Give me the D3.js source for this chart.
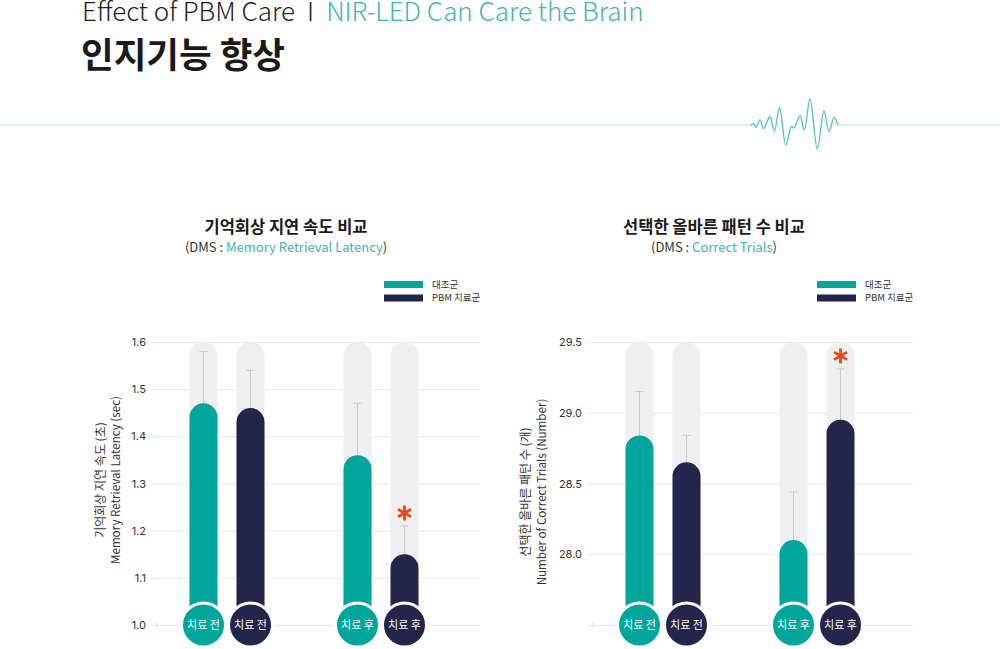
<!DOCTYPE html>
<html>
<head>
<meta charset="utf-8">
<script src="https://cdn.jsdelivr.net/npm/d3@7"></script>
<style>
  body { margin: 0; background: #fff; }
  svg { display: block; font-family: "Noto Sans CJK KR", "Noto Sans", sans-serif; }
</style>
</head>
<body>
<script>
// categories
const groups = ["치료 전", "치료 후"];
const series = ["대조군", "PBM 치료군"];

// chart 1 : memory retrieval latency (sec)
const latencyControl = [1.47, 1.36];
const latencyPBM = [1.46, 1.15];
const latencyControlErr = [1.58, 1.47];
const latencyPBMErr = [1.54, 1.21];
const latencyTicks = [1.0, 1.1, 1.2, 1.3, 1.4, 1.5, 1.6];
const latencyStar = [[false, false], [false, true]];

// chart 2 : correct trials (number)
const trialsControl = [28.84, 28.10];
const trialsPBM = [28.65, 28.95];
const trialsControlErr = [29.15, 28.44];
const trialsPBMErr = [28.84, 29.31];
const trialsTicks = [27.5, 28.0, 28.5, 29.0, 29.5];
const trialsStar = [[false, false], [false, true]];

// header wave peaks (decoration)
const wavePts = [[751,125],[754,124],[756,127],[760,120],[763.5,128.5],[770,116.5],[774.5,131],[779.5,107.5],
  [785.7,145],[791.5,126.5],[794,128],[800,115.5],[804.3,130],[810,99],[817.3,149],[824,111],[829,131.5],[834,117.5],[838,125]];

const colors = ["#00a69c", "#23264a"];
const W = 1000, H = 649;

const svg = d3.select("body").append("svg")
  .attr("width", W).attr("height", H);

// ---- header ----
const head = svg.append("text")
  .attr("x", 82).attr("y", 21)
  .attr("font-size", 26).attr("font-weight", 300).attr("fill", "#222");
head.append("tspan").text("Effect of PBM Care");
head.append("tspan").attr("dx", 12).text("I");
head.append("tspan").attr("dx", 12).attr("fill", "#3db5ae").text("NIR-LED Can Care the Brain");

svg.append("text")
  .attr("x", 81).attr("y", 68)
  .attr("font-size", 35.5).attr("font-weight", 700).attr("fill", "#1a1a1a")
  .text("인지기능 향상");

svg.append("line").attr("x1", 0).attr("x2", 752).attr("y1", 125).attr("y2", 125)
  .attr("stroke", "#b4dfdd").attr("stroke-width", 1);
svg.append("line").attr("x1", 838).attr("x2", W).attr("y1", 125).attr("y2", 125)
  .attr("stroke", "#b4dfdd").attr("stroke-width", 1);
svg.append("path")
  .attr("d", d3.line().curve(d3.curveMonotoneX)(wavePts))
  .attr("fill", "none").attr("stroke", "#5cc3bf").attr("stroke-width", 1.4);

// ---- chart drawing ----
function drawChart(cfg) {
  const top = 342, base = 625;
  const y = d3.scaleLinear().domain(cfg.domain).range([base, top]);
  const xg = d3.scalePoint().domain(groups).range([cfg.left + 75, cfg.left + 229]);
  const xs = d3.scalePoint().domain(series).range([-23.5, 23.5]);
  const bw = 28, r = bw / 2;
  const g = svg.append("g");

  // titles
  g.append("text").attr("x", cfg.titleX).attr("y", 233).attr("text-anchor", "middle")
    .attr("font-size", 16.5).attr("font-weight", 700).attr("fill", "#1a1a1a").text(cfg.title);
  const sub = g.append("text").attr("x", cfg.titleX).attr("y", 252).attr("text-anchor", "middle")
    .attr("font-size", 13).attr("fill", "#333");
  sub.append("tspan").text("(DMS : ");
  sub.append("tspan").attr("fill", "#3db5ae").text(cfg.subtitle);
  sub.append("tspan").text(")");

  // legend
  const lg = g.selectAll(".legend").data(series).enter().append("g")
    .attr("transform", (d, i) => "translate(" + (cfg.right - 96) + "," + (281 + i * 13.5) + ")");
  lg.append("rect").attr("width", 39).attr("height", 7).attr("fill", (d, i) => colors[i]);
  lg.append("text").attr("x", 48).attr("y", 6.5).attr("font-size", 9.5).attr("fill", "#333").text(d => d);

  // axis + grid
  const axis = d3.axisLeft(y).tickValues(cfg.ticks)
    .tickSize(-(cfg.right - cfg.left)).tickPadding(6)
    .tickFormat(d => cfg.hideTick === d ? "" : d3.format(".1f")(d));
  const ax = g.append("g").attr("transform", "translate(" + cfg.left + ",0)").call(axis);
  ax.select(".domain").remove();
  ax.selectAll("line").attr("stroke", "#e8e8e8");
  ax.selectAll("text").attr("font-size", 11).attr("fill", "#333").attr("font-family", "Inter, sans-serif");
  g.append("line").attr("x1", cfg.left + 5).attr("x2", cfg.left + 5)
    .attr("y1", base - 2.5).attr("y2", base + 2.5).attr("stroke", "#ddd");

  // y title
  const yt = g.append("text").attr("transform", "translate(" + cfg.ytX + "," + cfg.ytY + ") rotate(-90)")
    .attr("text-anchor", "middle").attr("fill", "#333");
  yt.append("tspan").attr("x", 0).attr("y", 0).attr("font-size", 12).text(cfg.yTitle[0]);
  yt.append("tspan").attr("x", 0).attr("y", cfg.ytGap).attr("font-size", 11.6).text(cfg.yTitle[1]);

  // bar records
  const recs = [];
  groups.forEach((grp, gi) => {
    series.forEach((s, si) => {
      recs.push({
        group: grp, series: s, si: si,
        value: cfg.values[si][gi], err: cfg.errs[si][gi], star: cfg.star[gi][si]
      });
    });
  });
  const cx = d => xg(d.group) + xs(d.series);

  function pill(x0, yTop) {
    return "M" + (x0 - r) + "," + base + "V" + (yTop + r) +
      "A" + r + "," + r + " 0 0 1 " + (x0 + r) + "," + (yTop + r) + "V" + base + "Z";
  }

  const bars = g.selectAll(".bar").data(recs).enter().append("g").attr("class", "bar");
  bars.append("path").attr("d", d => pill(cx(d), y(cfg.domain[1]))).attr("fill", "#efefef");
  bars.append("line")
    .attr("x1", cx).attr("x2", cx).attr("y1", d => y(d.value)).attr("y2", d => y(d.err))
    .attr("stroke", "#c9c9c9").attr("stroke-width", 1);
  bars.append("line")
    .attr("x1", d => cx(d) - 4).attr("x2", d => cx(d) + 4).attr("y1", d => y(d.err)).attr("y2", d => y(d.err))
    .attr("stroke", "#c9c9c9").attr("stroke-width", 1);
  bars.append("path").attr("d", d => pill(cx(d), y(d.value))).attr("fill", d => colors[d.si]);
  bars.append("circle").attr("cx", cx).attr("cy", base).attr("r", 22)
    .attr("fill", d => colors[d.si]).attr("stroke", "#fff").attr("stroke-width", 3);
  bars.append("text").attr("x", cx).attr("y", base).attr("dy", "0.36em")
    .attr("text-anchor", "middle").attr("font-size", 11).attr("fill", "#fff").text(d => d.group);

  // significance asterisk
  const st = bars.filter(d => d.star).append("g")
    .attr("transform", d => "translate(" + cx(d) + "," + (y(d.err) - 13) + ")");
  [90, 30, 150].forEach(a => {
    const rad = a * Math.PI / 180, l = 7.5;
    st.append("line")
      .attr("x1", -l * Math.cos(rad)).attr("y1", -l * Math.sin(rad))
      .attr("x2", l * Math.cos(rad)).attr("y2", l * Math.sin(rad))
      .attr("stroke", "#e8471d").attr("stroke-width", 2.8);
  });
}

drawChart({
  left: 152, right: 480, domain: [1.0, 1.6], ticks: latencyTicks,
  values: [latencyControl, latencyPBM], errs: [latencyControlErr, latencyPBMErr], star: latencyStar,
  title: "기억회상 지연 속도 비교", subtitle: "Memory Retrieval Latency", titleX: 286,
  yTitle: ["기억회상 지연 속도 (초)", "Memory Retrieval Latency (sec)"], ytX: 104.5, ytY: 480, ytGap: 15
});

drawChart({
  left: 588, right: 913, domain: [27.5, 29.5], ticks: trialsTicks, hideTick: 27.5,
  values: [trialsControl, trialsPBM], errs: [trialsControlErr, trialsPBMErr], star: trialsStar,
  title: "선택한 올바른 패턴 수 비교", subtitle: "Correct Trials", titleX: 714,
  yTitle: ["선택한 올바른 패턴 수 (개)", "Number of Correct Trials (Number)"], ytX: 529.5, ytY: 492, ytGap: 16
});
</script>
</body>
</html>
